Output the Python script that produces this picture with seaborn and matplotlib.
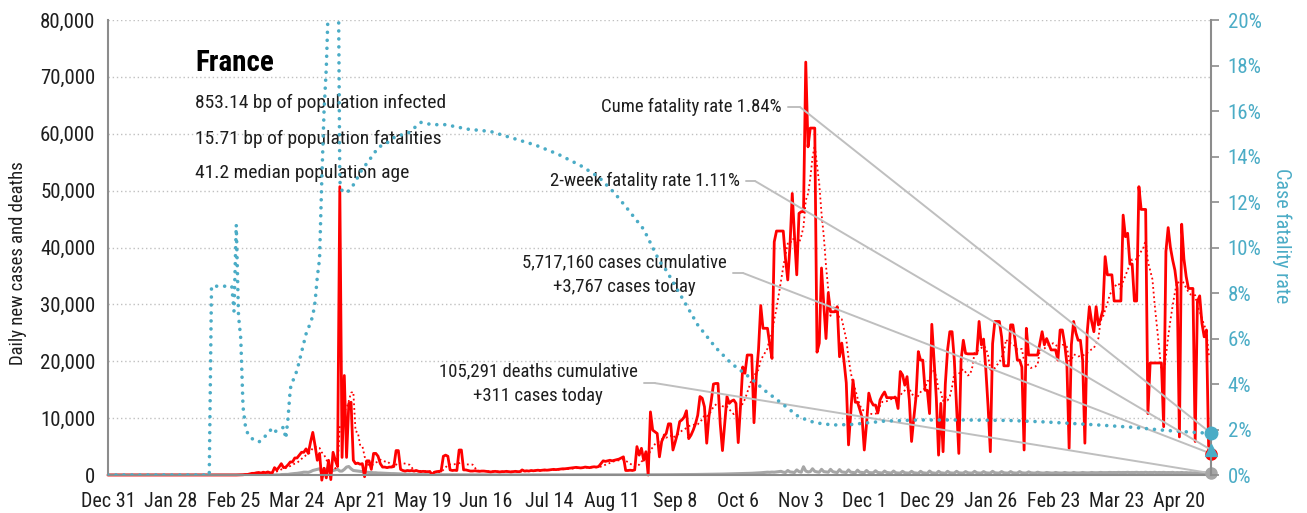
import numpy as np
import pandas as pd
import seaborn as sns
import matplotlib
matplotlib.use("Agg")
import matplotlib.pyplot as plt
import matplotlib.dates as mdates
from matplotlib.ticker import FuncFormatter

# France daily data, day 0 = Dec 31 2019
start_date = "2019-12-31"

daily_cases = [
    0, 0, 0, 0, 0, 0, 0, 0, 0, 0,
    0, 0, 0, 0, 0, 0, 0, 0, 0, 0,
    0, 0, 0, 0, 3, 0, 0, 0, 1, 0,
    0, 0, 0, 0, 0, 0, 0, 0, 5, 0,
    0, 0, 0, 0, 0, 1, 0, 0, 0, 0,
    0, 0, 0, 0, 0, 0, 2, 4, 20, 40,
    50, 100, 100, 200, 300, 300, 400, 450, 350, 500,
    400, 550, 400, 400, 1300, 870, 1400, 2000, 1300, 1400,
    1800, 2300, 2300, 3000, 3000, 3500, 4000, 4000, 4600, 3800,
    5800, 7500, 5200, 2600, 3800, -900, 1200, -500, 2600, -800,
    4000, 2600, 1500, 50700, 3100, 17500, 3100, 12600, 12800, 2600,
    2000, 2100, 1900, 2000, -300, 2500, 2500, 1000, 3800, 3800,
    3300, 2000, 1400, 1400, 1300, 1400, 1400, 1500, 4300, 4300,
    1000, 800, 700, 800, 750, 800, 700, 800, 650, 600,
    650, 600, 600, 600, 100, 500, 600, 650, 700, 3300,
    3500, 3300, 900, 800, 850, 800, 4400, 4400, 900, 900,
    800, 700, 700, 750, 700, 650, 700, 700, 650, 600,
    550, 600, 650, 600, 550, 600, 600, 650, 600, 550,
    600, 650, 600, 600, 900, 700, 750, 700, 800, 750,
    800, 850, 800, 850, 900, 850, 900, 950, 1000, 950,
    1000, 1050, 1100, 1100, 1150, 1200, 1250, 1300, 1350, 1300,
    1250, 1300, 1400, 1350, 1300, 1400, 1450, 1400, 1500, 2000,
    2500, 2400, 2500, 2600, 2500, 2600, 2700, 2800, 3000, 3200,
    800, 800, 850, 800, 900, 5000, 3500, 4700, 2600, 4100,
    0, 11100, 7900, 7600, 7300, 3200, 5900, 6800, 7300, 9000,
    9000, 4400, 5800, 7300, 9400, 9700, 10200, 11300, 6400, 7000,
    7900, 9000, 10500, 13800, 13500, 12000, 5600, 10300, 13000, 16000,
    16100, 16100, 9000, 4300, 9000, 13800, 12600, 13000, 13200, 12600,
    5700, 12000, 19000, 17900, 21100, 21100, 21100, 9200, 17300, 22000,
    29800, 25800, 25800, 25800, 23000, 20500, 41000, 42900, 42900, 42900,
    42900, 38000, 34300, 40400, 49500, 42000, 35200, 46000, 46300, 46300,
    72600, 57700, 61000, 61000, 61000, 21600, 23200, 36400, 30000, 24000,
    32000, 28700, 28700, 28700, 29600, 20800, 23200, 20000, 16200, 5300,
    11000, 16700, 12800, 12800, 11500, 10200, 4400, 9000, 14400, 13000,
    12300, 12300, 10900, 13200, 14000, 14600, 13600, 13600, 13600, 13600,
    13600, 11700, 18200, 17600, 15800, 17300, 13200, 5900, 10000, 13800,
    21700, 20200, 20200, 14900, 14900, 10800, 26500, 20200, 13500, 3500,
    12600, 4100, 16000, 22000, 25200, 25200, 20200, 12000, 3800, 20200,
    23700, 21400, 21300, 21300, 21300, 21300, 21300, 27000, 22900, 23900,
    18500, 12000, 4100, 23100, 27000, 27000, 27000, 24300, 19200, 19200,
    19200, 26400, 26400, 23700, 20200, 20200, 19000, 4400, 25800, 21100,
    21100, 21100, 21100, 21100, 23100, 25200, 22900, 24000, 23000, 22000,
    22000, 22000, 20200, 25500, 25500, 23100, 19600, 4700, 22900, 27000,
    25000, 23700, 23700, 20200, 5600, 24900, 29600, 27000, 25200, 29600,
    26400, 27500, 29000, 38400, 35200, 35200, 35200, 30600, 30600, 30600,
    30600, 45700, 41900, 42500, 37100, 37100, 30600, 30600, 50700, 46700,
    46700, 46700, 10800, 19700, 19700, 19700, 19700, 19700, 19700, 8500,
    39300, 43500, 40000, 37800, 36000, 32800, 6700, 44100, 38000, 34900,
    32800, 32800, 32800, 5900, 30500, 31500, 26700, 24300, 25500, 4400,
    3767,
]

daily_deaths = [
    0, 0, 0, 0, 0, 0, 0, 0, 0, 0,
    0, 0, 0, 0, 0, 0, 0, 0, 0, 0,
    0, 0, 0, 0, 0, 0, 0, 0, 0, 0,
    0, 0, 0, 0, 0, 0, 0, 0, 0, 0,
    0, 0, 0, 0, 0, 1, 0, 0, 0, 0,
    0, 0, 0, 0, 0, 0, 0, 1, 0, 0,
    0, 0, 1, 1, 0, 2, 2, 0, 3, 2,
    10, 15, 15, 30, 20, 40, 20, 80, 100, 110,
    110, 180, 230, 270, 300, 360, 420, 500, 500, 470,
    600, 800, 900, 1000, 1100, 500, 1100, 900, 1400, 600,
    800, 900, 1000, 700, 700, 1000, 1400, 1500, 1100, 800,
    750, 700, 650, 600, 550, 500, 450, 450, 400, 400,
    350, 350, 330, 300, 300, 280, 250, 250, 230, 200,
    200, 180, 160, 150, 140, 130, 120, 110, 100, 100,
    90, 90, 80, 80, 70, 70, 60, 60, 60, 50,
    50, 50, 45, 45, 40, 40, 40, 35, 35, 35,
    30, 30, 30, 30, 25, 25, 25, 25, 25, 25,
    20, 20, 20, 20, 20, 20, 20, 20, 20, 20,
    20, 15, 15, 15, 15, 15, 15, 15, 15, 15,
    15, 15, 15, 15, 15, 15, 15, 15, 15, 15,
    15, 15, 15, 15, 15, 15, 15, 15, 15, 15,
    15, 15, 15, 15, 15, 15, 15, 15, 15, 15,
    15, 15, 20, 20, 20, 20, 20, 25, 25, 25,
    25, 25, 30, 30, 30, 30, 35, 35, 35, 40,
    40, 40, 45, 45, 50, 50, 50, 55, 55, 60,
    60, 60, 65, 70, 70, 75, 80, 80, 85, 90,
    90, 95, 100, 100, 110, 110, 120, 120, 130, 140,
    140, 150, 160, 170, 180, 190, 200, 210, 220, 230,
    240, 250, 260, 270, 280, 300, 310, 330, 350, 370,
    400, 430, 460, 500, 480, 520, 500, 550, 600, 650,
    500, 450, 800, 550, 500, 450, 900, 600, 500, 1460,
    700, 550, 600, 1100, 650, 550, 500, 1000, 600, 550,
    500, 1000, 600, 500, 450, 950, 550, 500, 450, 900,
    500, 450, 400, 850, 500, 450, 400, 800, 450, 400,
    400, 750, 450, 400, 350, 700, 450, 400, 350, 700,
    400, 350, 350, 650, 400, 350, 350, 650, 400, 350,
    300, 650, 400, 350, 300, 700, 400, 350, 300, 650,
    400, 350, 300, 650, 400, 350, 350, 650, 400, 350,
    350, 600, 400, 350, 350, 650, 400, 350, 350, 600,
    400, 350, 350, 650, 400, 350, 350, 600, 400, 350,
    350, 600, 400, 350, 350, 600, 400, 350, 350, 550,
    400, 350, 350, 500, 400, 350, 350, 450, 400, 350,
    350, 450, 380, 350, 350, 450, 380, 350, 350, 450,
    380, 360, 380, 450, 400, 380, 390, 450, 410, 400,
    410, 460, 420, 420, 420, 460, 430, 440, 430, 470,
    430, 450, 440, 480, 430, 450, 440, 480, 420, 450,
    430, 480, 420, 450, 430, 480, 420, 450, 430, 470,
    420, 440, 430, 470, 400, 430, 410, 450, 400, 420,
    380, 400, 370, 410, 360, 380, 350, 390, 340, 360,
    311,
]

# cumulative case fatality rate (%), read at selected dates
cfr_dates = [
    "2019-12-31", "2020-02-14", "2020-02-15", "2020-02-24", "2020-02-25",
    "2020-02-26", "2020-02-27", "2020-02-28", "2020-02-29", "2020-03-01",
    "2020-03-02", "2020-03-04", "2020-03-07", "2020-03-09", "2020-03-11",
    "2020-03-13", "2020-03-14", "2020-03-16", "2020-03-18", "2020-03-19",
    "2020-03-20", "2020-03-21", "2020-03-22", "2020-03-24", "2020-03-26",
    "2020-03-28", "2020-03-30", "2020-03-31", "2020-04-01", "2020-04-02",
    "2020-04-03", "2020-04-04", "2020-04-05", "2020-04-06", "2020-04-07",
    "2020-04-08", "2020-04-09", "2020-04-10", "2020-04-11", "2020-04-12",
    "2020-04-13", "2020-04-15", "2020-04-17", "2020-04-19", "2020-04-21",
    "2020-04-24", "2020-04-27", "2020-04-29", "2020-05-03", "2020-05-07",
    "2020-05-12", "2020-05-18", "2020-05-23", "2020-05-29", "2020-06-08",
    "2020-06-18", "2020-06-28", "2020-07-08", "2020-07-18", "2020-07-28",
    "2020-08-05", "2020-08-12", "2020-08-17", "2020-08-21", "2020-08-25",
    "2020-08-29", "2020-09-01", "2020-09-04", "2020-09-11", "2020-09-18",
    "2020-09-26", "2020-10-03", "2020-10-11", "2020-10-18", "2020-10-26",
    "2020-11-02", "2020-11-09", "2020-11-17", "2020-11-25", "2020-12-10",
    "2020-12-25", "2021-01-14", "2021-02-03", "2021-02-18", "2021-03-01",
    "2021-03-15", "2021-03-30", "2021-04-14", "2021-04-29", "2021-05-04",
]
cfr_pct = [
    0, 0, 8.3, 8.3, 7.2,
    11.0, 7.0, 6.0, 3.0, 2.2,
    1.85, 1.6, 1.45, 1.6, 1.85,
    2.05, 1.9, 2.0, 2.1, 1.6,
    2.5, 3.8, 4.1, 4.6, 5.4,
    6.2, 6.7, 7.0, 7.6, 8.7,
    9.5, 13.0, 16.0, 17.9, 21.0,
    28.0, 32.0, 30.0, 27.0, 12.9,
    12.5, 12.4, 12.6, 12.9, 13.3,
    13.7, 14.1, 14.4, 14.6, 14.9,
    15.0, 15.5, 15.4, 15.4, 15.2,
    15.1, 14.8, 14.5, 14.1, 13.6,
    13.1, 12.4, 11.8, 11.3, 10.8,
    10.0, 9.4, 9.0, 7.8, 6.6,
    5.6, 4.9, 4.3, 3.7, 3.1,
    2.55, 2.3, 2.2, 2.22, 2.37,
    2.42, 2.42, 2.40, 2.34, 2.28,
    2.2, 2.1, 1.96, 1.86, 1.84,
]
two_week_cfr = 1.11

tick_dates = ["2019-12-31", "2020-01-28", "2020-02-25", "2020-03-24", "2020-04-21",
              "2020-05-19", "2020-06-16", "2020-07-14", "2020-08-11", "2020-09-08",
              "2020-10-06", "2020-11-03", "2020-12-01", "2020-12-29", "2021-01-26",
              "2021-02-23", "2021-03-23", "2021-04-20"]

country = "France"
stats_lines = ["853.14 bp of population infected",
               "15.71 bp of population fatalities",
               "41.2 median population age"]
cume_label = "Cume fatality rate 1.84%"
twoweek_label = "2-week fatality rate 1.11%"
cases_label = "5,717,160 cases cumulative\n+3,767 cases today"
deaths_label = "105,291 deaths cumulative\n+311 cases today"

RED = "#ff0000"
GREY = "#a6a6a6"
TEAL = "#4bacc6"
AXIS = "#8c8c8c"
LEADER = "#bfbfbf"
INK = "#1e1e1e"

sns.set_style("white")
plt.rcParams['font.family'] = ['Roboto Condensed', 'Noto Sans Condensed', 'DejaVu Sans Condensed',
                               'Noto Sans', 'DejaVu Sans']
plt.rcParams['font.stretch'] = 'condensed'

df = pd.DataFrame({
    "date": pd.date_range(start_date, periods=len(daily_cases), freq="D"),
    "cases": daily_cases,
    "deaths": daily_deaths,
})
df["avg7"] = df["cases"].rolling(7).mean()
cfr = pd.DataFrame({"date": pd.to_datetime(cfr_dates), "cfr": cfr_pct})
last = df["date"].iloc[-1]

fig = plt.figure(figsize=(13.07, 5.13), dpi=100)
ax = fig.add_axes([0.0826, 0.074, 0.8439, 0.887])

sns.lineplot(data=df, x="date", y="deaths", ax=ax, color=GREY, lw=2.2)
sns.lineplot(data=df, x="date", y="avg7", ax=ax, color=RED, lw=1.3, linestyle=(0, (1, 1.6)))
sns.lineplot(data=df, x="date", y="cases", ax=ax, color=RED, lw=2.0, clip_on=False)
ax.plot(last, daily_cases[-1], "o", color=RED, ms=8, clip_on=False, zorder=5)
ax.plot(last, daily_deaths[-1], "o", color=GREY, ms=8, clip_on=False, zorder=5)

ax.set_ylim(0, 80000)
ax.set_yticks(range(0, 80001, 10000))
ax.yaxis.set_major_formatter(FuncFormatter(lambda v, p: f"{v:,.0f}"))
ax.set_xlim(df["date"].iloc[0], last)
ax.set_xticks(pd.to_datetime(tick_dates))
ax.xaxis.set_major_formatter(mdates.DateFormatter("%b %-d"))
ax.yaxis.grid(True, linestyle=(0, (1, 2)), color="#c0c0c0", lw=1)
ax.set_axisbelow(True)
ax.tick_params(axis="y", length=0, labelsize=15, pad=9, labelcolor=INK)
ax.tick_params(axis="x", length=5, width=1.2, color=AXIS, labelsize=14.5, pad=7, labelcolor=INK)
for s in ["top", "right"]:
    ax.spines[s].set_visible(False)
for s in ["left", "bottom"]:
    ax.spines[s].set_color(AXIS)
    ax.spines[s].set_linewidth(1.5)
ax.set_xlabel("")
ax.set_ylabel("Daily new cases and deaths", fontsize=13.5, color=INK)
ax.yaxis.set_label_coords(-0.0734, 0.466)

ax2 = ax.twinx()
sns.lineplot(data=cfr, x="date", y="cfr", ax=ax2, color=TEAL, lw=2.6,
             linestyle=(0, (0.01, 2.2)), dash_capstyle="round")
ax2.plot(last, cfr_pct[-1], "o", color=TEAL, ms=9, clip_on=False, zorder=5)
ax2.plot(last, two_week_cfr, "^", color=TEAL, ms=9, clip_on=False, zorder=5)
ax2.set_ylim(0, 20)
ax2.set_yticks(range(0, 21, 2))
ax2.yaxis.set_major_formatter(FuncFormatter(lambda v, p: f"{v:.0f}%"))
ax2.tick_params(axis="y", length=6, width=1.2, color=AXIS, labelsize=15, pad=6, labelcolor=TEAL)
for s in ["top", "left", "bottom"]:
    ax2.spines[s].set_visible(False)
ax2.spines["right"].set_color(AXIS)
ax2.spines["right"].set_linewidth(1.5)
ax2.set_ylabel("Case fatality rate", fontsize=14.5, color=TEAL, rotation=270, va="bottom")
ax2.yaxis.set_label_coords(1.0553, 0.527)
ax2.set_xlim(df["date"].iloc[0], last)

# header block
ax.text(0.0789, 0.905, country, transform=ax.transAxes, fontsize=21, fontweight="semibold",
        color="black", va="center", ha="left")
for txt, fy in zip(stats_lines, [0.8176, 0.7385, 0.6637]):
    ax.text(0.0789, fy, txt, transform=ax.transAxes, fontsize=14, color=INK, va="center", ha="left")

# callouts with leader lines
xl = mdates.date2num(last)
callouts = [
    (ax2, cume_label, (0.611, 0.8088), "right", (0.6165, 0.6274), 0.8088, cfr_pct[-1]),
    (ax2, twoweek_label, (0.573, 0.6462), "right", (0.5784, 0.5866), 0.6462, two_week_cfr),
    (ax, cases_label, (0.468, 0.44), "center", (0.5666, 0.5757), 0.444, daily_cases[-1]),
    (ax, deaths_label, (0.39, 0.201), "center", (0.486, 0.496), 0.202, daily_deaths[-1]),
]
for tax, label, (tx, ty), ha, (lx0, lx1), ly, yv in callouts:
    ax.text(tx, ty, label, transform=ax.transAxes, fontsize=13.5, color=INK,
            ha=ha, va="center", multialignment="center", linespacing=1.45, zorder=6)
    ax.plot([lx0, lx1], [ly, ly], transform=ax.transAxes, color=LEADER, lw=1.4,
            clip_on=False, zorder=4)
    tax.annotate("", xy=(xl, yv), xycoords="data", xytext=(lx1, ly), textcoords="axes fraction",
                 annotation_clip=False,
                 arrowprops=dict(arrowstyle="-", color=LEADER, lw=1.4, shrinkA=0, shrinkB=0))

fig.savefig("out.png", dpi=100, facecolor="white")
